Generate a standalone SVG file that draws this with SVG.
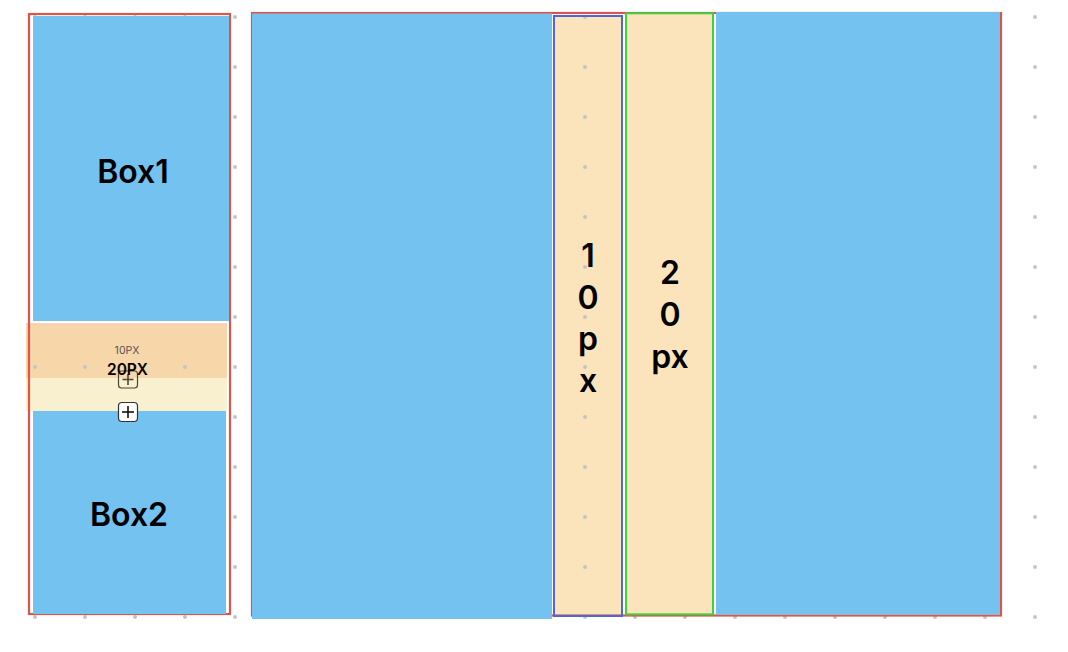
<svg xmlns="http://www.w3.org/2000/svg" width="1068" height="652" viewBox="0 0 1068 652">
<defs>
<style>
.blue{fill:#74c2f0}
.beige{fill:#fbe3bb}
.red{fill:none;stroke:#d9574a;stroke-width:2.2}
.dot{fill:#c4c4c4}
.lbl{font-family:Inter,"Liberation Sans",sans-serif;font-weight:600;fill:#000;text-anchor:middle}
.big{font-size:32px}
.plus{fill:#fff;stroke:#333;stroke-width:1.2}
.plusl{stroke:#111;stroke-width:1.6}
</style>
<pattern id="grid" x="0" y="0" width="50" height="50" patternUnits="userSpaceOnUse" patternTransform="translate(10 -8)">
<circle cx="25" cy="25" r="2" class="dot"/>
</pattern>
</defs>
<rect width="1068" height="652" fill="#fff"/>

<g id="left-bands">
<rect x="26" y="323.3" width="201" height="54.7" fill="#f7d6a9"/>
<rect x="26" y="323.3" width="201" height="2" fill="#f8cfbd"/>
<rect x="26" y="378" width="201" height="33" fill="#f9f0d0"/>
</g>
<g id="col-10px-fill">
<rect x="554" y="16" width="68" height="600" class="beige"/>
</g>

<rect x="0" y="0" width="1068" height="652" fill="url(#grid)"/>

<g id="left-container">
<rect x="29" y="14" width="201" height="600" class="red"/>
</g>
<g id="right-container">
<rect x="252" y="13" width="749" height="602.5" class="red"/>
</g>

<g id="box1">
<rect x="33" y="16" width="196" height="305" class="blue"/>
<text x="133" y="183" class="lbl big">Box1</text>
</g>
<g id="box2">
<rect x="33" y="411" width="193" height="203" class="blue"/>
<text x="129" y="526" class="lbl big">Box2</text>
</g>

<g id="gap-labels">
<text x="127" y="354.3" font-family="Inter,'Liberation Sans',sans-serif" font-size="10.5" fill="#555" text-anchor="middle">10PX</text>
<g id="plus1">
<rect x="118.5" y="371" width="19" height="17" rx="3" fill="none" stroke="#4d4636" stroke-width="1.2"/>
<line x1="128" y1="374" x2="128" y2="385" stroke="#4d4636" stroke-width="1.6"/>
<line x1="122.5" y1="379.5" x2="133.5" y2="379.5" stroke="#4d4636" stroke-width="1.6"/>
</g>
<text x="127.5" y="375" font-family="Inter,'Liberation Sans',sans-serif" font-size="15.5" font-weight="600" fill="#000" text-anchor="middle">20PX</text>
<g id="plus2">
<rect x="118.5" y="402.5" width="19" height="19" rx="3.5" class="plus"/>
<line x1="128" y1="406" x2="128" y2="418" class="plusl"/>
<line x1="122" y1="412" x2="134" y2="412" class="plusl"/>
</g>
</g>

<g id="box-left-wide">
<rect x="252" y="13.5" width="300" height="605.5" class="blue"/>
</g>

<g id="col-10px">
<rect x="554" y="16" width="68" height="600" fill="none" stroke="#4f67d6" stroke-width="2"/>
<text class="lbl big" x="588" y="267">1</text>
<text class="lbl big" x="588" y="308.5">0</text>
<text class="lbl big" x="588" y="350">p</text>
<text class="lbl big" x="588" y="391.5">x</text>
</g>

<g id="col-20px">
<rect x="626" y="13.3" width="87" height="601" class="beige" stroke="#3dd33d" stroke-width="2"/>
<text class="lbl big" x="670" y="283.5">2</text>
<text class="lbl big" x="670" y="326">0</text>
<text class="lbl big" x="670" y="368">px</text>
</g>

<g id="box-right-wide">
<rect x="716" y="12" width="284" height="602.7" class="blue"/>
</g>

<g id="connectors"></g>
</svg>
